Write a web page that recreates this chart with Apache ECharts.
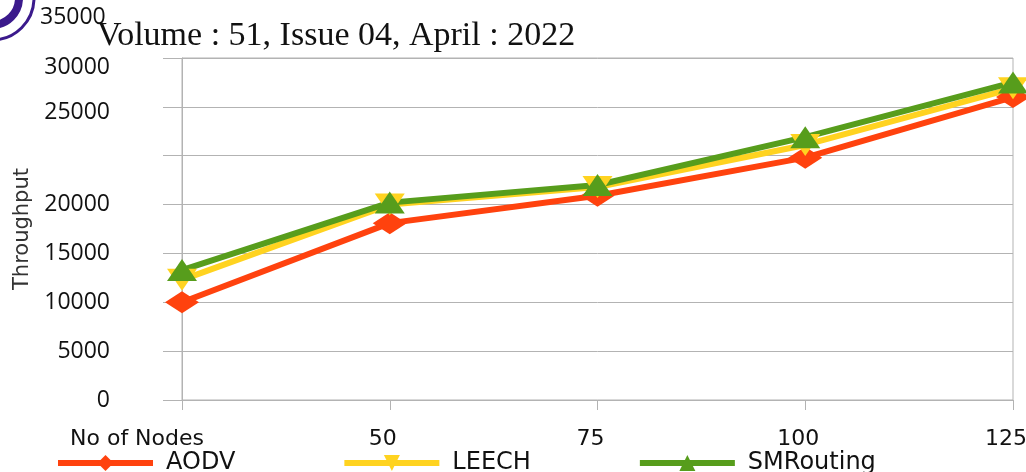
<!DOCTYPE html>
<html>
<head>
<meta charset="utf-8">
<script src="https://cdn.jsdelivr.net/npm/echarts@6/dist/echarts.min.js"></script>
<style>
  html, body { margin: 0; padding: 0; background: #fff; }
  #chart { width: 1026px; height: 472px; }
</style>
</head>
<body>
<div id="chart"></div>
<script>
// values
var categories = ['No of Nodes', '50', '75', '100', '125'];
var aodv = [10000, 18100, 20900, 24800, 31000];
var leech = [12300, 20000, 21800, 26100, 31900];
var smrouting = [13300, 20200, 22000, 26900, 32500];
// tick labels as printed (the upper ones are shifted in the source)
var yTickLabels = ['0', '5000', '10000', '15000', '20000', '', '25000', '30000'];
var topLabel = '35000';

var myChart = echarts.init(document.getElementById('chart'));

var gridColor = '#b3b3b3';
var labelFont = { fontFamily: 'DejaVu Sans', fontSize: 22, color: '#111' };

var option = {
  animation: false,
  backgroundColor: '#fff',
  graphic: [
    // partial seal at the top-left corner
    { type: 'circle', shape: { cx: -8, cy: -2, r: 42 }, style: { fill: 'none', stroke: '#3b1a8c', lineWidth: 3 } },
    { type: 'circle', shape: { cx: -8, cy: -2, r: 27 }, style: { fill: 'none', stroke: '#3b1a8c', lineWidth: 8 } },
    {
      type: 'text', left: 40, top: 6, z: 1,
      style: { text: topLabel, font: '23px "Open Sans"', fill: '#111' }
    },
    {
      type: 'text', left: 97, top: 19, z: 2,
      style: { text: 'Volume : 51, Issue 04, April : 2022', font: '34px "Liberation Serif"', fill: '#111' }
    }
  ],
  legend: {
    left: 50,
    top: 446,
    itemWidth: 95,
    itemHeight: 20,
    itemGap: 106,
    lineStyle: { width: 6 },
    textStyle: { fontFamily: 'DejaVu Sans', fontSize: 24, color: '#111', padding: [0, 0, 0, 8] },
    data: ['AODV', 'LEECH', 'SMRouting']
  },
  grid: {
    left: 182, right: 13, top: 58, bottom: 72,
    outerBoundsMode: 'none',
    show: true, borderColor: gridColor, borderWidth: 1
  },
  xAxis: {
    type: 'category',
    data: categories,
    boundaryGap: false,
    axisLine: { lineStyle: { color: gridColor, width: 1 } },
    axisTick: { show: true, interval: 0, length: 10, lineStyle: { color: gridColor } },
    axisLabel: {
      interval: 0,
      hideOverlap: false,
      margin: 28,
      fontFamily: 'DejaVu Sans', fontSize: 22, color: '#111',
      formatter: function (v, i) {
        return i === 0 ? '{f|' + v + '}' : '{n|' + v + '}';
      },
      rich: {
        f: Object.assign({ padding: [0, 90, 0, 0] }, labelFont),
        n: Object.assign({ padding: [0, 14, 0, 0] }, labelFont)
      }
    },
    splitLine: { show: false }
  },
  yAxis: {
    type: 'value',
    min: 0, max: 35000, interval: 5000,
    name: 'Throughput',
    nameLocation: 'middle',
    nameGap: 149,
    nameTextStyle: { fontFamily: 'DejaVu Sans', fontSize: 21, color: '#333' },
    axisLine: { show: true, lineStyle: { color: gridColor, width: 1 } },
    axisTick: { show: true, length: 19, lineStyle: { color: gridColor } },
    axisLabel: {
      margin: 72,
      fontFamily: 'Open Sans', fontSize: 23, color: '#111',
      formatter: function (v) {
        var i = Math.round(v / 5000);
        var t = yTickLabels[i];
        if (i === 7) return '{a|' + t + '}';
        if (i === 6) return '{b|' + t + '}';
        return t;
      },
      rich: {
        a: { fontFamily: 'Open Sans', fontSize: 23, color: '#111', padding: [18, 0, 0, 0] },
        b: { fontFamily: 'Open Sans', fontSize: 23, color: '#111', padding: [12, 0, 0, 0] }
      }
    },
    splitLine: { lineStyle: { color: gridColor, width: 1 } }
  },
  series: [
    {
      name: 'AODV', type: 'line', data: aodv,
      symbol: 'diamond', symbolSize: [34, 22],
      lineStyle: { width: 6, color: '#ff420e' },
      itemStyle: { color: '#ff420e' }
    },
    {
      name: 'LEECH', type: 'line', data: leech,
      symbol: 'triangle', symbolRotate: 180, symbolSize: [30, 22],
      lineStyle: { width: 6, color: '#ffd320' },
      itemStyle: { color: '#ffd320' }
    },
    {
      name: 'SMRouting', type: 'line', data: smrouting,
      symbol: 'triangle', symbolSize: [30, 22],
      lineStyle: { width: 6, color: '#579d1c' },
      itemStyle: { color: '#579d1c' }
    }
  ]
};

myChart.setOption(option);
</script>
</body>
</html>
